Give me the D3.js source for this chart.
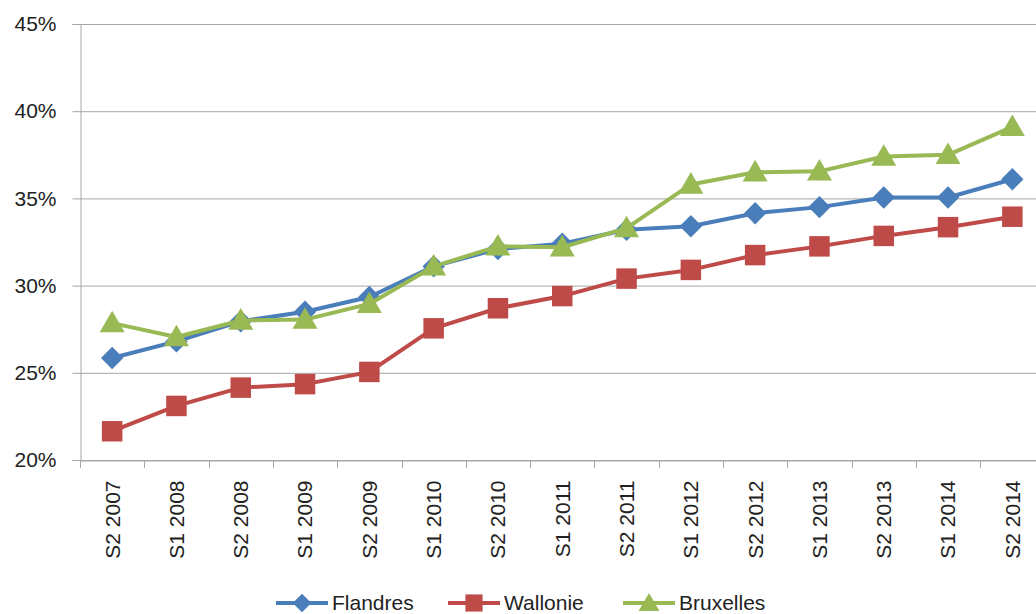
<!DOCTYPE html>
<html><head><meta charset="utf-8">
<script src="https://cdn.jsdelivr.net/npm/d3@7"></script>
<style>body{margin:0;background:#fff}svg{display:block;font-family:"Liberation Sans",Arial,sans-serif}</style>
</head><body><svg id="c" width="1036" height="614"></svg>
<script>
const categories = ["S2 2007","S1 2008","S2 2008","S1 2009","S2 2009","S1 2010","S2 2010","S1 2011","S2 2011","S1 2012","S2 2012","S1 2013","S2 2013","S1 2014","S2 2014"];
const flandres  = [25.85,26.8,27.95,28.5,29.35,31.1,32.1,32.4,33.2,33.4,34.15,34.5,35.05,35.05,36.1];
const wallonie  = [21.65,23.1,24.15,24.35,25.05,27.55,28.7,29.4,30.4,30.9,31.75,32.25,32.85,33.35,33.95];
const bruxelles = [27.85,27.05,28.0,28.05,28.95,31.1,32.25,32.2,33.3,35.8,36.5,36.55,37.4,37.5,39.1];
const yTicks = [20,25,30,35,40,45];
const series = [
  {name:"Flandres", values:flandres, color:"#4a7ebb", shape:d3.symbolSquare, size:250, rot:45},
  {name:"Wallonie", values:wallonie, color:"#be4b48", shape:d3.symbolSquare, size:420, rot:0},
  {name:"Bruxelles", values:bruxelles, color:"#98b954", shape:d3.symbolTriangle, size:270, rot:0}
];

const svg = d3.select("#c");
const mLeft = 80, mTop = 24, mBottom = 460, step = 64.3;
const x = d3.scaleBand().domain(categories).range([mLeft, mLeft + step*categories.length]);
const y = d3.scaleLinear().domain([20,45]).range([mBottom, mTop]);

// gridlines
svg.append("g").selectAll("line").data(yTicks).join("line")
  .attr("x1", mLeft).attr("x2", 1036)
  .attr("y1", d=>y(d)+0.5).attr("y2", d=>y(d)+0.5)
  .attr("stroke", "#a6a6a6").attr("stroke-width", 1);

// y axis
const ya = svg.append("g").attr("transform", `translate(${mLeft+0.5},0)`)
  .call(d3.axisLeft(y).tickValues(yTicks).tickSize(8).tickPadding(16).tickFormat(d=>d+"%"));
ya.select(".domain").attr("stroke","#a6a6a6");
ya.selectAll(".tick line").attr("stroke","#a6a6a6");
ya.selectAll(".tick text").attr("font-size",21).attr("fill","#222").attr("font-family","Liberation Sans, Arial, sans-serif");

// x axis
const xa = svg.append("g").attr("transform", `translate(0,${mBottom+0.5})`)
  .call(d3.axisBottom(x).tickSize(0).tickFormat(d=>d));
xa.select(".domain").attr("stroke","#a6a6a6");
xa.selectAll(".tick line").remove();
xa.selectAll(".tick text").attr("font-size",21).attr("fill","#222")
  .attr("font-family","Liberation Sans, Arial, sans-serif")
  .attr("text-anchor","end").attr("dy","0.35em")
  .attr("transform","translate(0,20) rotate(-90)").attr("x",0).attr("y",0);
// category boundary ticks
const bounds = categories.map(c=>x(c)).concat([x(categories[categories.length-1])+x.bandwidth()]);
svg.append("g").selectAll("line").data(bounds).join("line")
  .attr("x1", d=>Math.round(d)+0.5).attr("x2", d=>Math.round(d)+0.5)
  .attr("y1", mBottom).attr("y2", mBottom+8).attr("stroke","#a6a6a6");

const cx = (i)=> x(categories[i]) + x.bandwidth()/2;
const line = d3.line().x((d,i)=>cx(i)).y(d=>y(d));
series.forEach(s=>{
  svg.append("path").datum(s.values).attr("d", line)
    .attr("fill","none").attr("stroke", s.color).attr("stroke-width",4).attr("stroke-linejoin","round");
  svg.append("g").selectAll("path").data(s.values).join("path")
    .attr("d", d3.symbol().type(s.shape).size(s.size))
    .attr("transform", (d,i)=>`translate(${cx(i)},${y(d)+(s.shape===d3.symbolTriangle?2:0)}) rotate(${s.rot})`)
    .attr("fill", s.color);
});

// legend
const legX = [276, 448, 623];
const legY = 603;
series.forEach((s,i)=>{
  const g = svg.append("g").attr("transform", `translate(${legX[i]},${legY})`);
  g.append("line").attr("x1",0).attr("x2",52).attr("y1",0).attr("y2",0)
    .attr("stroke", s.color).attr("stroke-width",4);
  g.append("path").attr("d", d3.symbol().type(s.shape).size(s.size*0.7))
    .attr("transform", `translate(26,${s.shape===d3.symbolTriangle?2:0}) rotate(${s.rot})`).attr("fill", s.color);
  g.append("text").attr("x",56).attr("y",0).attr("dy","0.35em")
    .attr("font-size",21).attr("fill","#222").text(s.name);
});
</script></body></html>
